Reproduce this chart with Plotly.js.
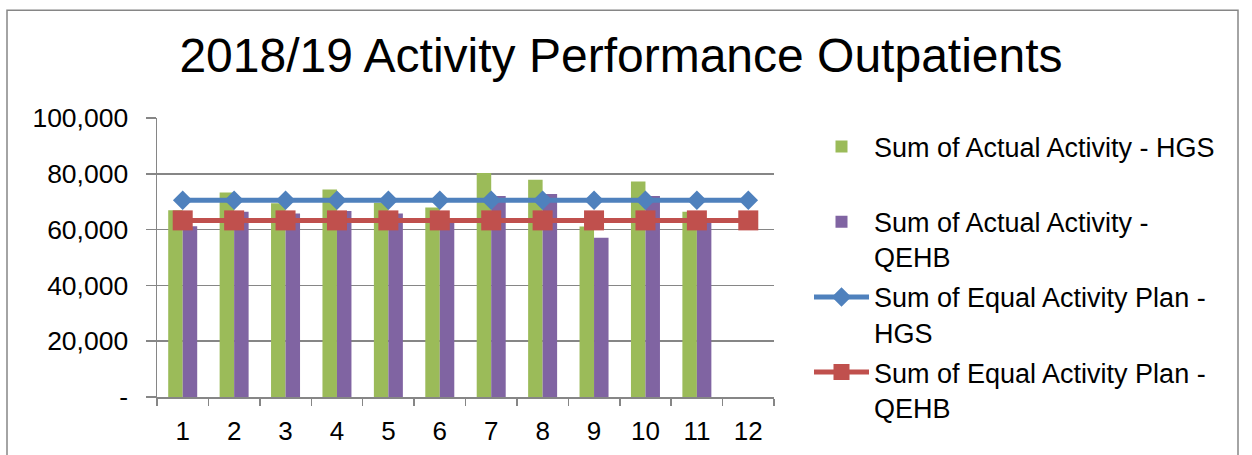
<!DOCTYPE html>
<html>
<head>
<meta charset="utf-8">
<script src="https://cdn.plot.ly/plotly-3.0.1.min.js"></script>
<style>
html,body{margin:0;padding:0;background:#fff;}
#chart{width:1252px;height:455px;}
</style>
</head>
<body>
<div id="chart"></div>
<script>
// ---- data ----
var months = ['1','2','3','4','5','6','7','8','9','10','11','12'];
var actualHGS  = [66960, 73300, 69400, 74400, 69600, 67900, 80300, 77900, 61100, 77200, 66400, null];
var actualQEHB = [61200, 66400, 65800, 66700, 65800, 62800, 72000, 72800, 57100, 72000, 62500, null];
var planHGS    = [70550, 70550, 70550, 70550, 70550, 70550, 70550, 70550, 70550, 70550, 70550, 70550];
var planQEHB   = [63300, 63300, 63300, 63300, 63300, 63300, 63300, 63300, 63300, 63300, 63300, 63300];
var yTickVals  = [0, 20000, 40000, 60000, 80000, 100000];
var yTickText  = ['-', '20,000', '40,000', '60,000', '80,000', '100,000'];
var seriesNames = [
  'Sum of Actual Activity - HGS<br> ',
  'Sum of Actual Activity -<br>QEHB',
  'Sum of Equal Activity Plan -<br>HGS',
  'Sum of Equal Activity Plan -<br>QEHB'
];

var FONT = '"Liberation Sans", Arial, sans-serif';

var traces = [
  {type:'bar', x:months, y:actualHGS, name:seriesNames[0], legendgroup:'a',
   marker:{color:'#9BBB59'}},
  {type:'bar', x:months, y:actualQEHB, name:seriesNames[1], legendgroup:'b',
   marker:{color:'#8064A2'}},
  {type:'scatter', mode:'lines+markers', x:months, y:planHGS, name:seriesNames[2], legendgroup:'c',
   line:{color:'#4F81BD', width:5}, marker:{symbol:'diamond', size:15, color:'#4F81BD'}},
  {type:'scatter', mode:'lines+markers', x:months, y:planQEHB, name:seriesNames[3], legendgroup:'d',
   line:{color:'#C0504D', width:5}, marker:{symbol:'square', size:20, color:'#C0504D'}}
];

var layout = {
  width:1252, height:455,
  margin:{l:157, r:478, t:118, b:57.5, pad:0, autoexpand:false},
  paper_bgcolor:'#fff', plot_bgcolor:'#fff',
  font:{family:FONT, color:'#000', size:26},
  title:{text:'2018/19 Activity Performance Outpatients',
         font:{family:FONT, size:48, color:'#000'},
         x:0.496, xref:'container', xanchor:'center',
         y:0.878, yref:'container', yanchor:'middle'},
  barmode:'group', bargap:0.436, bargroupgap:0,
  xaxis:{type:'category', range:[-0.5, 11.5], tickson:'boundaries', ticks:'outside', ticklen:7, tickwidth:1.5,
         tickcolor:'#868686', showline:true, linecolor:'#868686', linewidth:1.5,
         showgrid:false, zeroline:false, ticklabelstandoff:10,
         tickfont:{family:FONT, size:26, color:'#000'}},
  yaxis:{range:[0,100000], tickvals:yTickVals, ticktext:yTickText, ticks:'outside',
         ticklen:10, tickwidth:1.5, tickcolor:'#868686', showline:true, linecolor:'#868686',
         linewidth:1.5, showgrid:true, gridcolor:'#868686', gridwidth:1.5, zeroline:false,
         ticklabelstandoff:12, tickfont:{family:FONT, size:26.5, color:'#000'}},
  showlegend:true,
  legend:{x:(809-157)/617, xanchor:'left', y:0.984, yanchor:'top', traceorder:'grouped',
          tracegroupgap:2, valign:'top', itemwidth:55, maxheight:420, bgcolor:'rgba(0,0,0,0)',
          font:{family:FONT, size:27, color:'#000'}},
  shapes:[{type:'rect', xref:'paper', yref:'paper',
           x0:(7-157)/617, x1:(1238-157)/617, y0:(397.5-470)/279.5, y1:(397.5-10)/279.5,
           line:{color:'#868686', width:1.5}, fillcolor:'rgba(0,0,0,0)', layer:'below'}]
};

Plotly.newPlot('chart', traces, layout, {displayModeBar:false, staticPlot:true});
</script>
</body>
</html>
